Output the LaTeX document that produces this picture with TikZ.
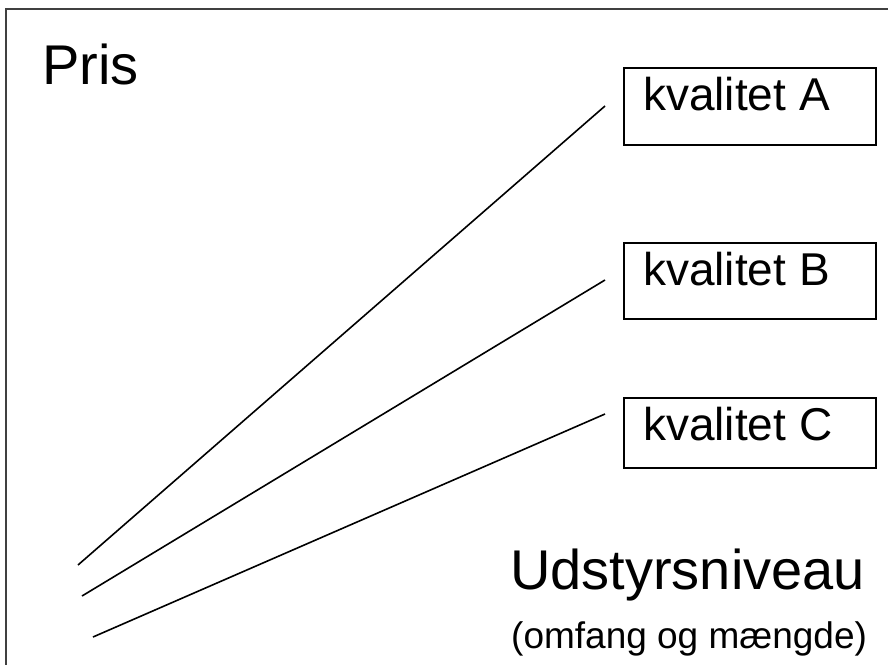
\documentclass[tikz,border=0pt]{standalone}
\usepackage{fontspec}
\setmainfont{Liberation Sans}
\begin{document}
\begin{tikzpicture}[x=1pt,y=-1pt,
  qbox/.style={draw=black, line width=1.6pt, minimum width=252pt, anchor=north west, inner sep=0pt},
  qtext/.style={anchor=base west, inner sep=0pt, font=\fontsize{46}{50}\selectfont},
  pline/.style={draw=black, line width=1.6pt}]
\useasboundingbox (0,0) rectangle (888,664);
\clip (0,0) rectangle (888,664);
\fill[white] (0,0) rectangle (888,664);
% frame
\draw[black!75, line width=2pt] (5.5,700) |- (900,9);
% title
\node[anchor=base west, inner sep=0pt, font=\fontsize{56}{60}\selectfont] (pris) at (42,84) {Pris};
% boxes
\node[qbox, minimum height=77pt] (A) at (623,67) {};
\node[qbox, minimum height=76pt] (B) at (623,242) {};
\node[qbox, minimum height=70pt] (C) at (623,397) {};
\node[qtext] (At) at ([xshift=20pt,yshift=-43pt]A.north west) {kvalitet A};
\node[qtext] (Bt) at ([xshift=20pt,yshift=-43pt]B.north west) {kvalitet B};
\node[qtext] (Ct) at ([xshift=20pt,yshift=-43pt]C.north west) {kvalitet C};
% line ends
\coordinate (a0) at (78,565);
\coordinate (a1) at (605,106);
\coordinate (b0) at (82,596);
\coordinate (b1) at (605,280);
\coordinate (c0) at (93,637);
\coordinate (c1) at (605,414);
\draw[pline] (a0) -- (a1);
\draw[pline] (b0) -- (b1);
\draw[pline] (c0) -- (c1);
% axis labels
\node[anchor=base west, inner sep=0pt, font=\fontsize{56}{60}\selectfont] (udst) at (510,589) {Udstyrsniveau};
\node[anchor=base west, inner sep=0pt, font=\fontsize{37}{42}\selectfont] (omf) at (511,648) {(omfang og mængde)};
\end{tikzpicture}
\end{document}
